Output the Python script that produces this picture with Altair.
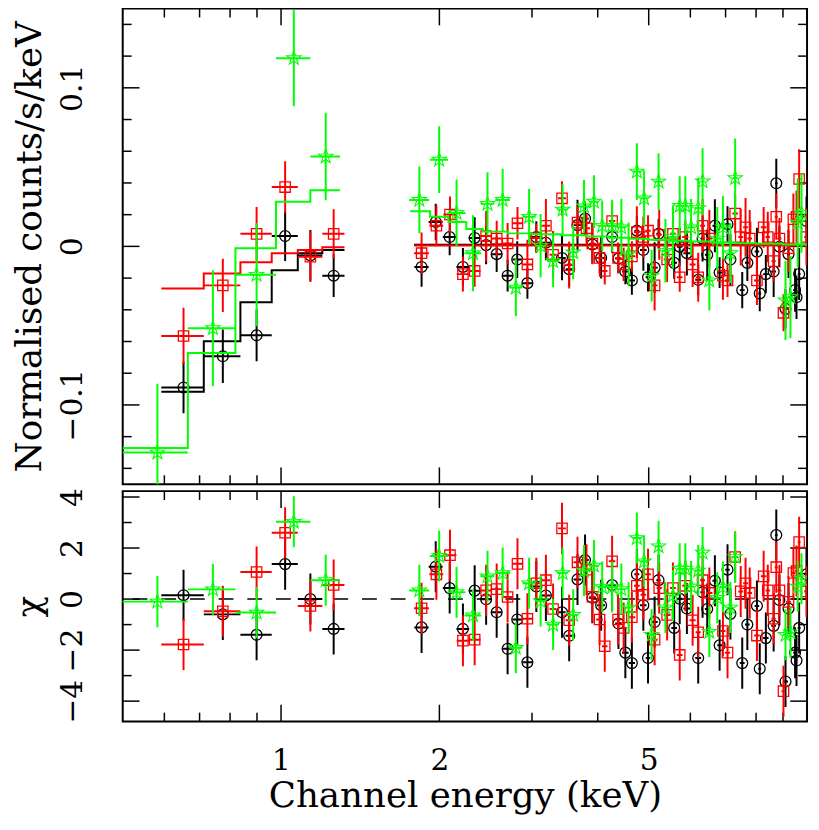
import altair as alt
import pandas as pd

# ---------------- data: black (group 1) ----------------
blk_E = [0.6525, 0.775, 0.8985, 1.018, 1.137, 1.259,
         1.850, 1.968, 2.092, 2.217, 2.334, 2.454, 2.570, 2.696, 2.812, 2.940,
         3.057, 3.188, 3.421, 3.530, 3.661, 3.784, 3.907, 4.06, 4.26, 4.38,
         4.514, 4.645, 4.747, 4.884, 4.985, 5.131, 5.22, 5.59, 5.727, 5.91,
         6.21, 6.33, 6.46, 6.68, 6.82, 7.06, 7.15, 7.53, 7.70, 8.03,
         8.13, 8.35, 8.64, 8.74, 8.86, 9.10, 9.22, 9.49, 9.55, 9.66, 9.975]
blk_dE = [0.0605, 0.062, 0.0615, 0.058, 0.061, 0.061,
          0.058, 0.06, 0.062, 0.062, 0.06, 0.06, 0.058, 0.063, 0.058, 0.064,
          0.058, 0.065, 0.055, 0.055, 0.062, 0.062, 0.062, 0.07, 0.07, 0.062,
          0.066, 0.064, 0.05, 0.07, 0.05, 0.07, 0.05, 0.07, 0.068, 0.09,
          0.08, 0.06, 0.066, 0.07, 0.07, 0.07, 0.05, 0.08, 0.08, 0.08,
          0.05, 0.1, 0.09, 0.05, 0.06, 0.1, 0.06, 0.08, 0.04, 0.06, 0.1]
blk_y = [-0.089, -0.0693, -0.0561, 0.0065, -0.0057, -0.0185,
         -0.013, 0.0154, 0.0059, -0.013, 0.0053, 0.0008, -0.0049, -0.0185, -0.0083, -0.0232,
         0.0059, 0.0023, -0.0073, -0.0144, 0.0134, 0.0175, 0.0012, -0.0073, 0.0059, -0.0077,
         -0.0159, -0.0215, 0.0099, -0.0023, -0.0195, -0.0134, 0.0079, -0.0104, -0.0002, -0.0043,
         -0.0211, 0.0049, -0.0053, 0.013, -0.0165, 0.014, -0.0083, -0.0276, -0.0104, -0.0033,
         -0.0297, -0.0175, -0.0159, 0.0398, -0.0002, -0.0394, -0.0049, -0.0276, -0.0321, -0.0175, 0.016]
blk_yerr = [0.0163, 0.0168, 0.0163, 0.0157, 0.016, 0.0135,
            0.0125, 0.0115, 0.0115, 0.012, 0.013, 0.012, 0.0113, 0.010, 0.0116, 0.0098,
            0.010, 0.011, 0.014, 0.0107, 0.016, 0.0108, 0.012, 0.013, 0.010, 0.009,
            0.008, 0.009, 0.0092, 0.013, 0.0089, 0.016, 0.0093, 0.010, 0.012, 0.014,
            0.0096, 0.0144, 0.016, 0.0167, 0.0097, 0.0113, 0.016, 0.0114, 0.0114, 0.015,
            0.0112, 0.012, 0.016, 0.0155, 0.013, 0.0125, 0.015, 0.0136, 0.0137, 0.0164, 0.0155]
blk_chi = [0.15, -0.6, -1.4, 1.37, 0.0, -1.17,
           -1.11, 1.27, 0.43, -1.17, 0.33, -0.01, -0.52, -1.95, -0.80, -2.48,
           0.49, 0.14, -0.52, -1.44, 0.77, 1.53, 0.05, -0.24, 0.55, -0.96,
           -2.1, -2.51, 0.97, -0.24, -2.31, -0.9, 0.74, -1.13, 0.01, -0.37,
           -2.31, 0.27, -0.39, 0.72, -1.81, 1.15, -0.58, -2.51, -1.0, -0.27,
           -2.73, -1.53, -1.05, 2.51, -0.04, -3.23, -0.37, -2.1, -2.41, -1.13, 0.97]

# ---------------- data: red (group 2) ----------------
red_E = [0.6525, 0.775, 0.8985, 1.018, 1.137, 1.259,
         1.850, 1.974, 2.095, 2.217, 2.334, 2.454, 2.570, 2.696, 2.815, 2.940,
         3.057, 3.188, 3.290, 3.421, 3.530, 3.661, 3.808, 3.907, 4.032, 4.125,
         4.26, 4.372, 4.48, 4.645, 4.747, 4.884, 4.985, 5.131, 5.235, 5.42,
         5.56, 5.727, 5.87, 6.06, 6.21, 6.33, 6.52, 6.92, 7.06, 7.30,
         7.48, 7.64, 7.78, 8.03, 8.27, 8.42, 8.64, 8.74, 8.86, 9.02,
         9.22, 9.42, 9.55, 9.66, 9.975]
red_dE = [0.0605, 0.062, 0.0615, 0.058, 0.061, 0.061,
          0.06, 0.06, 0.06, 0.06, 0.06, 0.06, 0.058, 0.06, 0.06, 0.062,
          0.062, 0.06, 0.05, 0.06, 0.055, 0.065, 0.06, 0.05, 0.06, 0.05,
          0.06, 0.055, 0.06, 0.07, 0.06, 0.06, 0.06, 0.07, 0.06, 0.08,
          0.07, 0.07, 0.08, 0.08, 0.07, 0.07, 0.09, 0.08, 0.08, 0.09,
          0.08, 0.08, 0.08, 0.1, 0.1, 0.08, 0.08, 0.06, 0.08, 0.08,
          0.1, 0.08, 0.06, 0.06, 0.1]
red_y = [-0.0565, -0.0246, 0.0079, 0.0374, -0.0065, 0.0079,
         -0.0043, 0.013, 0.0201, -0.0175, -0.0155, 0.0065, 0.0049, 0.0018, 0.0146, -0.0114,
         0.0053, 0.013, -0.0053, 0.0303, -0.0118, 0.015, 0.0114, 0.0018, -0.0073, -0.0155,
         0.016, -0.0073, -0.0114, -0.0063, 0.009, 0.0059, 0.0099, -0.0246, 0.0073, -0.0083,
         0.0079, -0.0195, 0.0059, -0.0114, -0.0195, 0.013, 0.0049, -0.0185, -0.0215, 0.0207,
         0.0059, 0.012, 0.0049, -0.0215, 0.012, 0.0059, -0.0093, 0.0187, 0.0049, -0.0419,
         -0.0012, 0.0171, 0.0187, 0.0425, 0.0059]
red_yerr = [0.0178, 0.0168, 0.0169, 0.0163, 0.016, 0.0155,
            0.013, 0.0129, 0.0114, 0.011, 0.010, 0.016, 0.0113, 0.013, 0.0102, 0.0155,
            0.009, 0.0169, 0.015, 0.0108, 0.0148, 0.010, 0.0095, 0.013, 0.0098, 0.0086,
            0.0105, 0.0098, 0.0105, 0.0096, 0.0163, 0.013, 0.0097, 0.0158, 0.0158, 0.0142,
            0.0172, 0.0091, 0.0104, 0.0143, 0.0154, 0.0169, 0.018, 0.0152, 0.0105, 0.0122,
            0.018, 0.0185, 0.018, 0.0154, 0.0129, 0.0159, 0.0127, 0.0146, 0.013, 0.0117,
            0.015, 0.0163, 0.0165, 0.0188, 0.018]
red_chi = [-1.78, -0.48, 1.06, 2.6, -0.27, 0.55,
           -0.36, 0.97, 1.72, -1.63, -1.59, 0.34, 0.39, 0.08, 1.38, -0.77,
           0.62, 0.74, -0.39, 2.77, -0.83, 1.44, 1.15, 0.09, -0.8, -1.85,
           1.48, -0.8, -1.13, -0.71, 0.52, 0.17, 0.97, -1.59, 0.43, -0.62,
           0.43, -2.19, 0.52, -0.83, -1.3, 0.74, 0.24, -1.25, -2.1, 1.65,
           0.3, 0.62, 0.24, -1.43, 0.89, 0.34, -0.77, 1.25, 0.34, -3.61,
           -0.11, 1.02, 1.1, 2.23, 0.3]

# ---------------- data: green (group 3) ----------------
grn_E = [0.582, 0.742, 0.8985, 1.0575, 1.216,
         1.832, 1.998, 2.156, 2.317, 2.469, 2.638, 2.795, 2.962, 3.115, 3.290,
         3.430, 3.592, 3.767, 3.935, 4.079, 4.26, 4.436, 4.579, 4.747, 4.90,
         5.065, 5.22, 5.38, 5.56, 5.727, 5.87, 6.02, 6.21, 6.33, 6.52,
         6.75, 6.92, 7.15, 7.30, 9.10, 9.30, 9.60, 9.76]
grn_dE = [0.083, 0.077, 0.0795, 0.0795, 0.079,
          0.08, 0.08, 0.085, 0.085, 0.075, 0.085, 0.08, 0.085, 0.075, 0.085,
          0.075, 0.08, 0.085, 0.085, 0.07, 0.09, 0.09, 0.075, 0.085, 0.08,
          0.08, 0.08, 0.08, 0.09, 0.075, 0.075, 0.08, 0.09, 0.06, 0.1,
          0.1, 0.09, 0.1, 0.08, 0.1, 0.1, 0.08, 0.08]
grn_y = [-0.130, -0.0516, -0.0179, 0.1187, 0.0567,
         0.0293, 0.0547, 0.0211, -0.0043, 0.0268, 0.0293, -0.026, 0.0187, 0.0004, -0.0093,
         0.0232, -0.0037, 0.0252, 0.0282, 0.013, 0.013, 0.012, -0.0049, 0.0472, 0.0303,
         -0.0185, 0.0409, -0.0028, 0.0059, 0.0256, 0.0256, 0.012, 0.0242, 0.041, -0.0215,
         0.0049, 0.012, -0.0043, 0.0431, -0.034, -0.032, 0.015, 0.021]
grn_yerr = [0.0434, 0.0366, 0.0325, 0.0303, 0.0276,
            0.021, 0.021, 0.021, 0.024, 0.020, 0.0196, 0.018, 0.0175, 0.020, 0.0165,
            0.016, 0.017, 0.0166, 0.0166, 0.016, 0.0164, 0.018, 0.020, 0.0179, 0.0176,
            0.0162, 0.0178, 0.020, 0.020, 0.0186, 0.0186, 0.0178, 0.019, 0.0209, 0.019,
            0.020, 0.020, 0.019, 0.0249, 0.025, 0.026, 0.028, 0.025]
grn_chi = [-0.1, 0.38, -0.53, 3.03, 0.74,
           0.34, 1.69, 0.27, -0.64, 0.89, 1.02, -1.91, 0.62, -0.08, -1.0,
           1.02, -0.62, 1.12, 1.31, 0.47, 0.47, 0.39, -0.33, 2.39, 1.48,
           -1.4, 2.07, -0.33, 0.14, 1.19, 1.19, 0.49, 1.12, 1.82, -1.28,
           0.05, 0.47, -0.33, 1.65, -1.4, -1.3, 0.49, 0.8]

# ---------------- model step lines (bin edges, levels) ----------------
blk_mod_lo_edges = [0.592, 0.713, 0.837, 0.960, 1.076, 1.198, 1.320]
blk_mod_lo = [-0.0917, -0.0598, -0.0352, -0.0150, -0.0043, -0.0023]
blk_mod_hi_edges = [1.79, 10.0]
blk_mod_hi = [0.001]
red_mod_lo_edges = [0.592, 0.713, 0.837, 0.960, 1.076, 1.198, 1.320]
red_mod_lo = [-0.0266, -0.0171, -0.0100, -0.0043, -0.0023, -0.0006]
red_mod_hi_edges = [1.79, 10.0]
red_mod_hi = [0.0005]
grn_mod_lo_edges = [0.499, 0.665, 0.819, 0.978, 1.137, 1.295]
grn_mod_lo = [-0.1272, -0.0673, -0.0012, 0.0282, 0.0354]
grn_mod_hi_edges = [1.76, 1.92, 2.08, 2.25, 2.42, 2.70, 3.00, 3.40, 3.80, 4.20,
                    4.60, 5.00, 5.50, 6.00, 6.60, 7.30, 8.00, 9.00, 10.0]
grn_mod_hi = [0.0222, 0.0187, 0.0154, 0.0110, 0.0093, 0.0082, 0.0076, 0.0070, 0.0063,
              0.0055, 0.0048, 0.0042, 0.0036, 0.0031, 0.0026, 0.0020, 0.0016, 0.0012]

# ---------------- axis ticks ----------------
x_labels = [1, 2, 5]
x_major = [1, 2, 5, 10]
x_minor = [0.6, 0.7, 0.8, 0.9, 3, 4, 6, 7, 8, 9]
yt_labels = [-0.1, 0, 0.1]
yt_minor = [-0.14, -0.12, -0.08, -0.06, -0.04, -0.02, 0.02, 0.04, 0.06, 0.08, 0.12, 0.14]
yc_labels = [-4, -2, 0, 2, 4]
yc_minor = [-3, -1, 1, 3]
chi_zero = [0]

# ---------------- styling ----------------
W, HT, HB = 692, 481, 233
BLACK, RED, GREEN = "#000000", "#ff0000", "#00ff00"
FONT = "DejaVu Serif"
STAR = ("M0,-1L0.235,-0.324L0.951,-0.309L0.38,0.124L0.588,0.809L0,0.4"
        "L-0.588,0.809L-0.38,0.124L-0.951,-0.309L-0.235,-0.324Z")

xs = alt.Scale(type="log", domain=[0.5, 10], nice=False)
ys_top = alt.Scale(domain=[-0.15, 0.15], nice=False, zero=False)
ys_chi = alt.Scale(domain=[-4.8, 4.23], nice=False, zero=False)


def yaxis(values, title):
    return alt.Axis(values=values, format="~g", labelAngle=270, labelAlign="center",
                    labelBaseline="bottom", labelPadding=36, ticks=False, tickSize=0,
                    domain=False, grid=False, labelOverlap=False, title=title,
                    titlePadding=9)


ax_y_top = yaxis(yt_labels, "Normalised counts/s/keV")
ax_y_chi = yaxis(yc_labels, "χ")
ax_x_bot = alt.Axis(values=x_labels, format="~g", labelAngle=0, ticks=False, tickSize=0,
                    domain=False, grid=False, labelPadding=24, labelOverlap=False,
                    title="Channel energy (keV)", titlePadding=4)


def data_df(E, dE, y, yerr, chi):
    return pd.DataFrame({"E": E, "dE": dE, "y": y, "yerr": yerr, "chi": chi})


def model_df(segments):
    rows = []
    for k, (edges, levels) in enumerate(segments):
        lv = list(levels) + [levels[-1]]
        for e, l in zip(edges, lv):
            rows.append({"E": e, "m": l, "seg": k})
    return pd.DataFrame(rows)


def tick_layers(yscale, yaxis_obj, ymaj, ymin, H, xaxis_obj):
    out = []
    for vals, L in [(ymaj, 17), (ymin, 9)]:
        d = pd.DataFrame({"v": vals})
        Y = alt.Y("v:Q", scale=yscale, axis=yaxis_obj)
        out.append(alt.Chart(d).mark_rule(color=BLACK, strokeWidth=1.5)
                   .encode(y=Y, x=alt.value(0), x2=alt.value(L)))
        out.append(alt.Chart(d).mark_rule(color=BLACK, strokeWidth=1.5)
                   .encode(y=Y, x=alt.value(W), x2=alt.value(W - L)))
    for vals, L in [(x_major, 17), (x_minor, 9)]:
        d = pd.DataFrame({"v": vals})
        X = alt.X("v:Q", scale=xs, axis=xaxis_obj)
        out.append(alt.Chart(d).mark_rule(color=BLACK, strokeWidth=1.5)
                   .encode(x=X, y=alt.value(H), y2=alt.value(H - L)))
        out.append(alt.Chart(d).mark_rule(color=BLACK, strokeWidth=1.5)
                   .encode(x=X, y=alt.value(0), y2=alt.value(L)))
    return out


def group_layers(df, mdf, color, shape, size, sw, yscale, yaxis_obj, xaxis_obj, field, err_expr):
    base = alt.Chart(df).transform_calculate(
        lo="datum.E - datum.dE", hi="datum.E + datum.dE",
        ylo=f"datum.{field} - {err_expr}", yhi=f"datum.{field} + {err_expr}")

    def X(f):
        return alt.X(f, type="quantitative", scale=xs, axis=xaxis_obj)

    def Y(f):
        return alt.Y(f, type="quantitative", scale=yscale, axis=yaxis_obj)

    layers = []
    if mdf is not None:
        layers.append(alt.Chart(mdf).mark_line(color=color, strokeWidth=2,
                                               interpolate="step-after", clip=True)
                      .encode(x=X("E"), y=Y("m"), detail="seg:N"))
    layers.append(base.mark_rule(color=color, strokeWidth=2, clip=True)
                  .encode(x=X("lo"), x2=alt.X2("hi"), y=Y(field)))
    layers.append(base.mark_rule(color=color, strokeWidth=2, clip=True)
                  .encode(x=X("E"), y=Y("ylo"), y2=alt.Y2("yhi")))
    layers.append(base.mark_point(shape=shape, filled=False, color=color, size=size,
                                  strokeWidth=sw, opacity=1, clip=True)
                  .encode(x=X("E"), y=Y(field)))
    return layers


blk = data_df(blk_E, blk_dE, blk_y, blk_yerr, blk_chi)
red = data_df(red_E, red_dE, red_y, red_yerr, red_chi)
grn = data_df(grn_E, grn_dE, grn_y, grn_yerr, grn_chi)

blk_m = model_df([(blk_mod_lo_edges, blk_mod_lo), (blk_mod_hi_edges, blk_mod_hi)])
red_m = model_df([(red_mod_lo_edges, red_mod_lo), (red_mod_hi_edges, red_mod_hi)])
grn_m = model_df([(grn_mod_lo_edges, grn_mod_lo), (grn_mod_hi_edges, grn_mod_hi)])

groups = [(blk, blk_m, BLACK, "circle", 120, 1.3),
          (red, red_m, RED, "square", 110, 1.3),
          (grn, grn_m, GREEN, STAR, 230, 1.1)]

# ---- top panel ----
top_layers = tick_layers(ys_top, ax_y_top, yt_labels, yt_minor, HT, None)
for df, mdf, col, shp, sz, sw in groups:
    top_layers += group_layers(df, mdf, col, shp, sz, sw, ys_top, ax_y_top, None, "y", "datum.yerr")
top = alt.layer(*top_layers).properties(width=W, height=HT)

# ---- residual panel ----
zero_line = (alt.Chart(pd.DataFrame({"v": chi_zero}))
             .mark_rule(color=BLACK, strokeWidth=1.5, strokeDash=[15, 14])
             .encode(y=alt.Y("v:Q", scale=ys_chi, axis=ax_y_chi)))
bot_layers = tick_layers(ys_chi, ax_y_chi, yc_labels, yc_minor, HB, ax_x_bot) + [zero_line]
for df, mdf, col, shp, sz, sw in groups:
    bot_layers += group_layers(df, None, col, shp, sz, sw, ys_chi, ax_y_chi, ax_x_bot, "chi", "1")
bottom = alt.layer(*bot_layers).properties(width=W, height=HB)

chart = (alt.vconcat(top, bottom, spacing=0)
         .properties(padding={"left": 2, "top": -6, "right": 2, "bottom": 0})
         .configure_view(stroke=BLACK, strokeWidth=2)
         .configure_axis(labelFont=FONT, titleFont=FONT, labelFontSize=30,
                         titleFontSize=36, labelColor=BLACK, titleColor=BLACK,
                         titleFontWeight="normal"))

chart.save("out.html", embed_options={"renderer": "svg", "actions": False})
